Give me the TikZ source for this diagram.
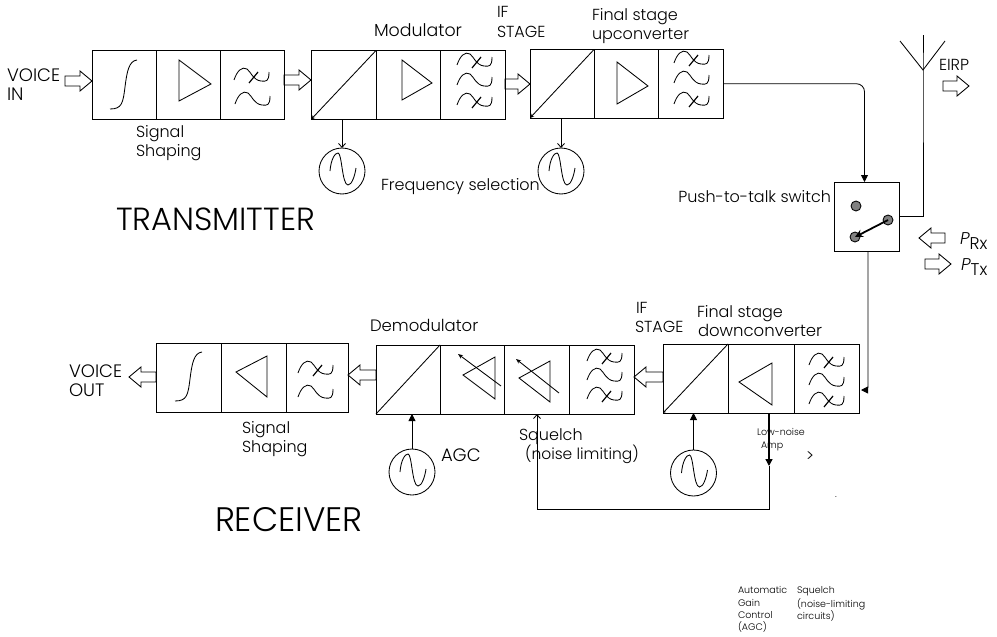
\documentclass[tikz,border=0pt]{standalone}
\usepackage{fontspec}
\setmainfont{Poppins Light}
\usetikzlibrary{arrows.meta,calc}
\newcommand{\fs}[1]{\fontsize{#1}{#1}\selectfont}
\tikzset{
  x=1pt,y=-1pt,
  cell/.style={draw,minimum height=69pt,inner sep=0pt,outer sep=0pt},
  lbl/.style={anchor=base west,inner sep=0pt,outer sep=0pt,font=\fs{16}},
  big/.style={anchor=base west,inner sep=0pt,outer sep=0pt,font=\fs{32}},
  tiny/.style={anchor=base west,inner sep=0pt,outer sep=0pt,font=\fs{9.5}},
  osc/.style={draw,circle,minimum size=46pt,inner sep=0pt,outer sep=0pt},
  dot/.style={draw,circle,fill=black!50,minimum size=10pt,inner sep=0pt,outer sep=0pt},
  filled/.style={-{Triangle[length=7pt,width=7pt]}},
  barb/.style={-{Straight Barb[length=4pt,width=7pt]}},
  block/.style={to path={
    let \p1=(\tikztostart),\p2=(\tikztotarget),\n1={ifthenelse(\x2>\x1,12pt,-12pt)} in
    ({\x1},{\y1+5pt}) -- ({\x2-\n1},{\y1+5pt}) -- ({\x2-\n1},{\y1+10pt}) --
    (\p2) --
    ({\x2-\n1},{\y1-10pt}) -- ({\x2-\n1},{\y1-5pt}) -- ({\x1},{\y1-5pt}) -- cycle
  }},
  pics/sine/.style={code={
    \draw (-12,0) .. controls (-11,-12) and (-7,-18) .. (-4,-18)
      .. controls (0,-18) and (0,14) .. (6,14)
      .. controls (10,14) and (13,4) .. (14,-3);
  }},
  pics/fcurve/.style={code={
    \draw (0,0) .. controls (3,-9) and (8,-14) .. (13,-11)
      .. controls (17,-8) and (19,0) .. (27,1)
      .. controls (32,1.5) and (35,2) .. (35,-8);
  }},
  pics/fcross/.style={code={
    \draw (0,0) .. controls (3,-9) and (8,-14) .. (13,-11)
      .. controls (17,-8) and (19,0) .. (27,1)
      .. controls (32,1.5) and (35,2) .. (35,-8);
    \draw[line width=1.2pt] (15,3) -- (24,-8);
  }},
  pics/scurve/.style={code={
    \draw (0,0) .. controls (12,0) and (13,-6) .. (15,-22)
      .. controls (17,-38) and (19,-48) .. (27,-49);
  }}
}
\begin{document}
\begin{tikzpicture}[line width=0.85pt]
\useasboundingbox (0,0) rectangle (997,637);
\fill[white] (0,0) rectangle (997,637);

% Transmitter cells
\node[cell,minimum width=64pt] (ta) at (124,85) {};
\node[cell,minimum width=64pt] (tb) at (188,85) {};
\node[cell,minimum width=64pt] (tc) at (252,85) {};
\node[cell,minimum width=65pt] (td) at (343.5,85) {};
\node[cell,minimum width=64pt] (te) at (408,85) {};
\node[cell,minimum width=65pt] (tf) at (472.5,85) {};
\node[cell,minimum width=64pt,minimum height=68.5pt] (tg) at (562,83.75) {};
\node[cell,minimum width=64pt,minimum height=68.5pt] (th) at (626,83.75) {};
\node[cell,minimum width=65pt,minimum height=68.5pt] (ti) at (690.5,83.75) {};

% Receiver cells
\node[cell,minimum width=65pt] (ra) at (188.5,377.5) {};
\node[cell,minimum width=65pt] (rb) at (253.5,377.5) {};
\node[cell,minimum width=62pt] (rc) at (317,377.5) {};
\node[cell,minimum width=64pt] (rd) at (408,379.5) {};
\node[cell,minimum width=64pt] (re) at (472,379.5) {};
\node[cell,minimum width=65pt] (rf) at (536.5,379.5) {};
\node[cell,minimum width=65pt] (rg) at (601.5,379.5) {};
\node[cell,minimum width=65pt] (rh) at (695.5,378.5) {};
\node[cell,minimum width=66pt] (ri) at (761,378.5) {};
\node[cell,minimum width=65pt] (rj) at (826.5,378.5) {};

% Oscillators
\node[osc] (o1) at (342,171) {};
\node[osc] (o2) at (561,171) {};
\node[osc] (o3) at (412,472) {};
\node[osc] (o4) at (693.5,473) {};
\pic at (o1) {sine};
\pic at (o2) {sine};
\pic at (o3) {sine};
\pic at (o4) {sine};

% Switch
\node[draw,minimum width=65pt,minimum height=69pt,inner sep=0pt,outer sep=0pt] (sw) at (866.5,216.5) {};
\node[dot] (d1) at (856,206) {};
\node[dot] (d2) at (888,220) {};
\node[dot] (d3) at (855,237) {};
\draw[line width=1.8pt,-{Stealth[length=8pt,width=8pt]}] (d2.center) -- (d3.center);

% Antenna
\coordinate (antb) at (923,70);
\coordinate (antt) at (923,35);
\coordinate (antl) at (900,41);
\coordinate (antr) at (945,41);
\draw (antl) -- (antb) -- (antr);
\draw (antt) -- (antb) -- (antb |- sw.east) -- (sw.east);

% Shapes in cells
\pic at (110,109) {scurve};
\pic at (175,401) {scurve};
\draw (179,60) -- (211,84) -- (179,101) -- cycle;
\draw (402,60) -- (432,83) -- (402,100) -- cycle;
\draw (617,62) -- (648,86) -- (617,104) -- cycle;
\draw (236,372) -- (267,356) -- (267,397) -- cycle;
\draw (739,382) -- (772,363) -- (772,405) -- cycle;
\draw (463,375) -- (495,357) -- (495,399) -- cycle;
\draw (519,378) -- (550,361) -- (550,402) -- cycle;
\draw[-{Stealth[length=5pt,width=4pt]}] (501,386) -- (458,354);
\draw[-{Stealth[length=5pt,width=4pt]}] (559,393) -- (516,359);

% Filters
\pic at (234,80) {fcross};
\pic at (235,104) {fcurve};
\pic at (457,65) {fcross};
\pic at (457,85) {fcurve};
\pic at (457,105) {fcross};
\pic at (674,63) {fcross};
\pic at (674,83) {fcurve};
\pic at (674,104) {fcross};
\pic at (809,365) {fcross};
\pic at (809,385) {fcurve};
\pic at (809,404) {fcross};
\pic at (587,361) {fcross};
\pic at (587,380) {fcurve};
\pic at (587,399) {fcross};
\pic at (298,373) {fcross};
\pic at (298,397) {fcurve};

% Converter diagonals
\draw[-{Stealth[length=4pt,width=4pt]}] (td.north east) -- (td.south west);
\draw[-{Stealth[length=4pt,width=4pt]}] (tg.north east) -- (tg.south west);
\draw (rd.north east) -- (rd.south west);
\draw[-{Stealth[length=3pt,width=3pt]}] (rh.north east) -- (rh.south west);

% Oscillator connectors
\draw[barb] (td.south -| o1) -- (o1.north);
\draw[barb] (tg.south -| o2) -- (o2.north);
\draw[filled] (o3.north) -- (rd.south -| o3);
\draw[filled] (o4.north) -- (rh.south -| o4);

% Block arrows
\coordinate (vin) at (65,81);
\coordinate (eirps) at (943,86);
\coordinate (eirpe) at (969,86);
\coordinate (prxs) at (945,238);
\coordinate (prxe) at (919,238);
\coordinate (ptxs) at (925,264);
\coordinate (ptxe) at (951,264);
\coordinate (vout) at (129,377);
\draw (vin) to[block] (ta.west |- vin);
\draw (tc.east |- 0,80) to[block] (td.west |- 0,80);
\draw (tf.east |- 0,84) to[block] (tg.west |- 0,84);
\draw (eirps) to[block] (eirpe);
\draw (prxs) to[block] (prxe);
\draw (ptxs) to[block] (ptxe);
\draw (ra.west |- vout) to[block] (vout);
\draw (rd.west |- 0,375) to[block] (rc.east |- 0,375);
\draw (rh.west |- 0,377) to[block] (rg.east |- 0,377);

% Signal path around the switch
\coordinate (swin) at (864.5,182);
\coordinate (swout) at (868,251);
\coordinate (rxin) at (861,390);
\draw[filled,rounded corners=8pt] (ti.east) -| (swin);
\draw[filled,rounded corners=3pt] (swout) |- (rxin);

% Squelch feedback
\coordinate (fa) at (769,413);
\coordinate (fb) at (769,466);
\coordinate (fc) at (769,509);
\coordinate (fd) at (537,509);
\coordinate (fe) at (537,414);
\draw[line width=1.4pt,filled] (fa) -- (fb);
\draw[barb] (fb) -- (fc) -- (fd) -- (fe);

% Labels
\node[lbl,font=\fs{18}] (l1) at (7,81) {VOICE};
\node[lbl,font=\fs{18}] (l2) at (7,100) {IN};
\node[lbl] (l3) at (136,137) {Signal};
\node[lbl] (l4) at (136,156) {Shaping};
\node[lbl,font=\fs{17.4}] (l5) at (374,36) {Modulator};
\node[lbl] (l6) at (497,17) {IF};
\node[lbl] (l7) at (497,37) {STAGE};
\node[lbl] (l8) at (592,20) {Final stage};
\node[lbl] (l9) at (592,39) {upconverter};
\node[lbl] (l10) at (381,190) {Frequency selection};
\node[lbl,anchor=base east] (l11) at (831,202) {Push-to-talk switch};
\node[lbl] (l12) at (939,70) {EIRP};
\node[lbl,font=\fs{17}] (l13) at (960,244) {\textit{P}\raisebox{-5pt}{Rx}};
\node[lbl,font=\fs{17}] (l14) at (961,270) {\textit{P}\raisebox{-5pt}{Tx}};
\node[big] (l15) at (116,230) {TRANSMITTER};
\node[big,font=\fs{34}] (l16) at (215,531) {RECEIVER};
\node[lbl,font=\fs{18}] (l17) at (69,377) {VOICE};
\node[lbl,font=\fs{18}] (l18) at (69,396) {OUT};
\node[lbl] (l19) at (242,433) {Signal};
\node[lbl] (l20) at (242,452) {Shaping};
\node[lbl,font=\fs{16.5}] (l21) at (370,331) {Demodulator};
\node[lbl] (l22) at (636,313) {IF};
\node[lbl] (l23) at (635,332) {STAGE};
\node[lbl] (l24) at (697,317) {Final stage};
\node[lbl,font=\fs{16.5}] (l25) at (698,336) {downconverter};
\node[lbl,font=\fs{18}] (l26) at (441,461) {AGC};
\node[lbl] (l27) at (519,440) {Squelch};
\node[lbl,font=\fs{15.5}] (l28) at (525,459) {(noise limiting)};
\node[tiny] (l29) at (757,435) {Low-noise};
\node[tiny] (l30) at (761,448) {Amp};
\node[lbl] (l31) at (806,461) {>};
\node[tiny] (l32) at (835,497) {.};
\node[tiny] (l33) at (738,593) {Automatic};
\node[tiny] (l34) at (738,606) {Gain};
\node[tiny] (l35) at (738,618) {Control};
\node[tiny] (l36) at (738,630) {(AGC)};
\node[tiny] (l37) at (797,593) {Squelch};
\node[tiny] (l38) at (797,607) {(noise-limiting};
\node[tiny] (l39) at (797,619) {circuits)};
\end{tikzpicture}
\end{document}
